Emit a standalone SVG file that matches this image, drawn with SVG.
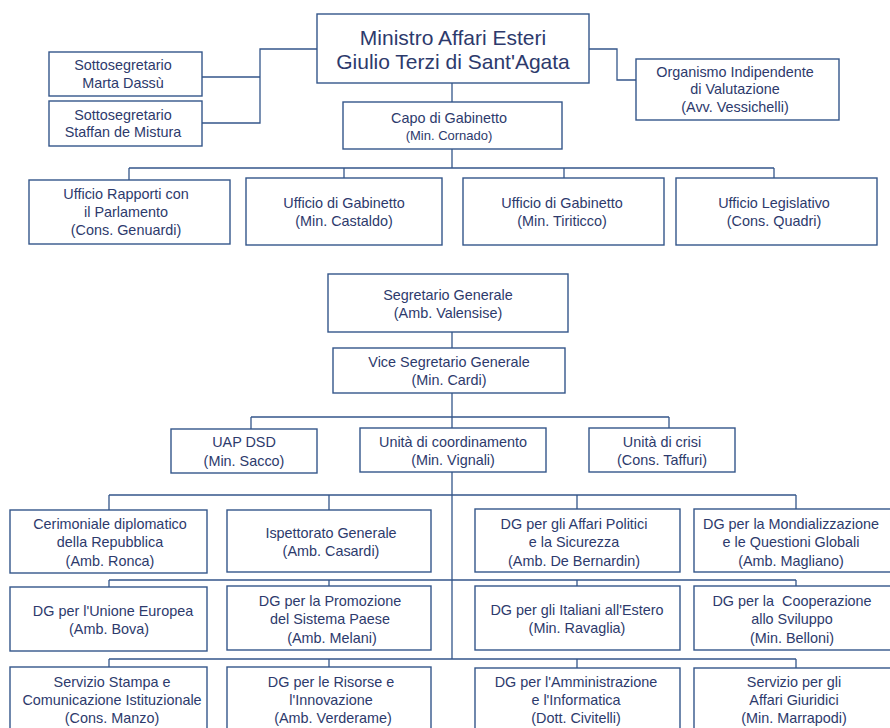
<svg xmlns="http://www.w3.org/2000/svg" width="890" height="728" viewBox="0 0 890 728">
<style>
.b{fill:#fff;stroke:#34568a;stroke-width:1.4}
.c{fill:none;stroke:#34568a;stroke-width:1.3}
text{font-family:"Liberation Sans",Arial,sans-serif;font-size:14.4px;fill:#2d3a6c;text-anchor:middle}
.s{font-size:13px}
.L{font-size:21px}
</style>
<rect width="890" height="728" fill="#fff"/>
<g id="connectors">
<path class="c" d="M317 49H260V123H202M260 77H202"/>
<path class="c" d="M589 49H617V80H636"/>
<path class="c" d="M452 83V102M452 149V168M129 168H774M129 168V180M344 168V178M564 168V178M774 168V178"/>
<path class="c" d="M452 332V348M452 393V428M251 417H669M251 417V429M669 417V428M452 472V659"/>
<path class="c" d="M109 495H796M109 495V510M329 495V510M577 495V509M796 495V509"/>
<path class="c" d="M109 580H796M109 580V587M329 580V586M577 580V586M796 580V586"/>
<path class="c" d="M109 659H796M109 659V667M329 659V667M577 659V668M796 659V668"/>
</g>
<g id="ministro"><rect class="b" x="317" y="14" width="272" height="69"/><text class="L" x="453" y="45">Ministro Affari Esteri</text><text class="L" x="453" y="69">Giulio Terzi di Sant'Agata</text></g>
<g id="sott1"><rect class="b" x="49" y="52" width="153" height="44"/><text x="123" y="70">Sottosegretario</text><text x="123" y="88">Marta Dassù</text></g>
<g id="sott2"><rect class="b" x="49" y="101" width="153" height="45"/><text x="123" y="120">Sottosegretario</text><text x="123" y="137">Staffan de Mistura</text></g>
<g id="oiv"><rect class="b" x="636" y="59" width="203" height="61"/><text x="735" y="77">Organismo Indipendente</text><text x="735" y="94">di Valutazione</text><text x="735" y="112">(Avv. Vessichelli)</text></g>
<g id="capo"><rect class="b" x="343" y="102" width="219" height="47"/><text x="449" y="123">Capo di Gabinetto</text><text class="s" x="449" y="140">(Min. Cornado)</text></g>
<g id="urp"><rect class="b" x="29" y="180" width="201" height="64"/><text x="126" y="199">Ufficio Rapporti con</text><text x="126" y="217">il Parlamento</text><text x="126" y="235">(Cons. Genuardi)</text></g>
<g id="ug1"><rect class="b" x="246" y="178" width="196" height="67"/><text x="344" y="208">Ufficio di Gabinetto</text><text x="344" y="226">(Min. Castaldo)</text></g>
<g id="ug2"><rect class="b" x="463" y="178" width="201" height="67"/><text x="562" y="208">Ufficio di Gabinetto</text><text x="562" y="226">(Min. Tiriticco)</text></g>
<g id="uleg"><rect class="b" x="676" y="178" width="201" height="67"/><text x="774" y="208">Ufficio Legislativo</text><text x="774" y="226">(Cons. Quadri)</text></g>
<g id="sg"><rect class="b" x="328" y="274" width="240" height="58"/><text x="448" y="300">Segretario Generale</text><text x="448" y="318">(Amb. Valensise)</text></g>
<g id="vsg"><rect class="b" x="333" y="348" width="232" height="45"/><text x="449" y="367">Vice Segretario Generale</text><text x="449" y="385">(Min. Cardi)</text></g>
<g id="uap"><rect class="b" x="171" y="429" width="146" height="44"/><text x="244" y="447">UAP DSD</text><text x="244" y="466">(Min. Sacco)</text></g>
<g id="ucoord"><rect class="b" x="360" y="428" width="186" height="44"/><text x="453" y="447">Unità di coordinamento</text><text x="453" y="465">(Min. Vignali)</text></g>
<g id="ucrisi"><rect class="b" x="589" y="428" width="146" height="44"/><text x="662" y="447">Unità di crisi</text><text x="662" y="465">(Cons. Taffuri)</text></g>
<g id="cerim"><rect class="b" x="10" y="510" width="197" height="63"/><text x="110" y="529">Cerimoniale diplomatico</text><text x="110" y="547">della Repubblica</text><text x="110" y="566">(Amb. Ronca)</text></g>
<g id="isp"><rect class="b" x="227" y="510" width="204" height="62"/><text x="331" y="538">Ispettorato Generale</text><text x="331" y="556">(Amb. Casardi)</text></g>
<g id="dgap"><rect class="b" x="475" y="509" width="205" height="63"/><text x="574" y="529">DG per gli Affari Politici</text><text x="574" y="547">e la Sicurezza</text><text x="574" y="566">(Amb. De Bernardin)</text></g>
<g id="dgm"><rect class="b" x="694" y="509" width="200" height="63"/><text x="791" y="529">DG per la Mondializzazione</text><text x="791" y="547">e le Questioni Globali</text><text x="791" y="566">(Amb. Magliano)</text></g>
<g id="dgue"><rect class="b" x="10" y="587" width="197" height="64"/><text x="113" y="616">DG per l'Unione Europea</text><text x="109" y="634">(Amb. Bova)</text></g>
<g id="dgps"><rect class="b" x="227" y="586" width="204" height="64"/><text x="330" y="606">DG per la Promozione</text><text x="330" y="624">del Sistema Paese</text><text x="332" y="643">(Amb. Melani)</text></g>
<g id="dgie"><rect class="b" x="475" y="586" width="205" height="64"/><text x="577" y="615">DG per gli Italiani all'Estero</text><text x="577" y="633">(Min. Ravaglia)</text></g>
<g id="dgcs"><rect class="b" x="694" y="586" width="200" height="64"/><text x="792" y="606" xml:space="preserve" style="white-space:pre">DG per la  Cooperazione</text><text x="792" y="624">allo Sviluppo</text><text x="792" y="643">(Min. Belloni)</text></g>
<g id="stampa"><rect class="b" x="10" y="667" width="197" height="70"/><text x="112" y="687">Servizio Stampa e</text><text x="112" y="705">Comunicazione Istituzionale</text><text x="112" y="723">(Cons. Manzo)</text></g>
<g id="dgri"><rect class="b" x="227" y="667" width="204" height="70"/><text x="331" y="687">DG per le Risorse e</text><text x="331" y="705">l'Innovazione</text><text x="333" y="723">(Amb. Verderame)</text></g>
<g id="dgai"><rect class="b" x="475" y="668" width="205" height="70"/><text x="576" y="687">DG per l'Amministrazione</text><text x="576" y="705">e l'Informatica</text><text x="576" y="723">(Dott. Civitelli)</text></g>
<g id="saj"><rect class="b" x="694" y="668" width="200" height="70"/><text x="794" y="687">Servizio per gli</text><text x="794" y="705">Affari Giuridici</text><text x="794" y="723">(Min. Marrapodi)</text></g>
</svg>
